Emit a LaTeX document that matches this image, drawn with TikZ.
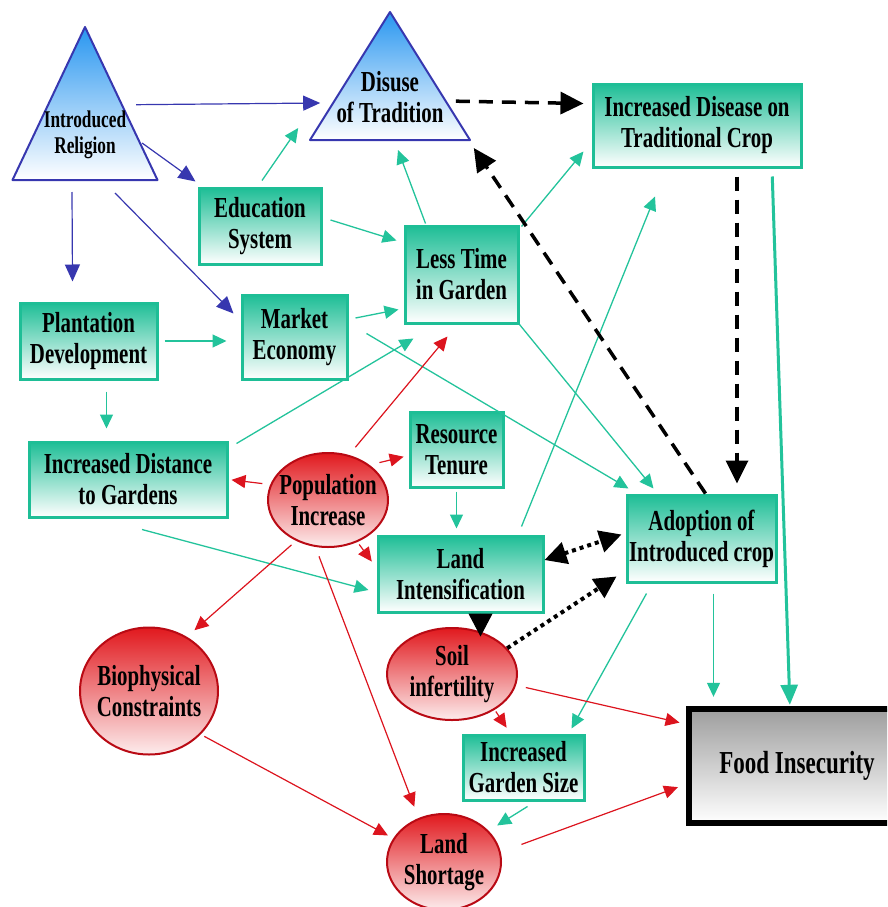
\documentclass[tikz,border=0pt]{standalone}
\usepackage{fontspec}
\setmainfont{Liberation Serif}[FakeStretch=0.72]
\usetikzlibrary{arrows.meta,shapes.geometric}

\definecolor{boxteal}{RGB}{30,190,150}
\definecolor{arrteal}{RGB}{35,195,155}
\definecolor{blobred}{RGB}{225,25,30}
\definecolor{blobedge}{RGB}{185,10,20}
\definecolor{arrred}{RGB}{220,20,30}
\definecolor{triblue}{RGB}{55,55,175}
\definecolor{trifill}{RGB}{40,150,240}

\begin{document}
\begin{tikzpicture}[x=1pt, y=-1pt,
  lbl/.style={font=\bfseries\fontsize{29}{31}\selectfont, align=center},
  box/.style={lbl, rectangle, draw=boxteal, line width=3pt, top color=boxteal, bottom color=white, inner sep=0pt},
  blob/.style={lbl, ellipse, draw=blobedge, line width=2pt, top color=blobred, bottom color=blobred!8, inner sep=-20pt},
  tri/.style={isosceles triangle, isosceles triangle stretches, shape border rotate=90, draw=triblue, line width=2pt, line join=round, top color=trifill, bottom color=white, inner sep=0pt},
  tritext/.style={font=\bfseries\fontsize{24}{26}\selectfont, align=center, inner sep=0pt},
  foodbox/.style={rectangle, top color=black!38, bottom color=white, font=\bfseries\fontsize{32}{34}\selectfont},
  barr/.style={draw=triblue, line width=1.2pt, -{Triangle[length=17pt,width=15pt]}},
  tarr/.style={draw=arrteal, line width=1.3pt, -{Triangle[length=14pt,width=13pt]}},
  tthick/.style={draw=arrteal, line width=3pt, -{Triangle[length=20pt,width=17pt]}},
  rarr/.style={draw=arrred, line width=1.2pt, -{Triangle[length=14pt,width=13pt]}},
  kdash/.style={draw=black, line width=3.5pt, dash pattern=on 14pt off 9pt, -{Triangle[length=23pt,width=22pt]}},
  kdot/.style={draw=black, line width=4pt, dash pattern=on 4pt off 4pt}]

  \useasboundingbox (0,0) rectangle (887,907);
  \clip (0,0) rectangle (887,907);

  % triangles
  \node[tri, minimum width=145pt, minimum height=153pt, anchor=lower side] (relig) at (85,181) {};
  \node[tritext] (religtxt) at ([yshift=46pt]relig.lower side) {Introduced\\Religion};
  \node[tri, minimum width=160pt, minimum height=128pt, anchor=lower side] (disuse) at (390,141) {};
  \node[tritext, font=\bfseries\fontsize{29}{31}\selectfont] (disusetxt) at ([yshift=44pt]disuse.lower side) {Disuse\\of Tradition};

  % boxes
  \node[box, minimum width=208pt, minimum height=83pt] (incdis) at (697,125.5) {Increased Disease on\\Traditional Crop};
  \node[box, minimum width=122pt, minimum height=76pt] (edu) at (260,226) {Education\\System};
  \node[box, minimum width=113pt, minimum height=97pt] (less) at (461.5,274.5) {Less Time\\in Garden};
  \node[box, minimum width=137pt, minimum height=76pt] (plant) at (88.5,341) {Plantation\\Development};
  \node[box, minimum width=105pt, minimum height=84pt] (market) at (294.5,337) {Market\\Economy};
  \node[box, minimum width=198pt, minimum height=75pt] (dist) at (128,479.5) {Increased Distance\\to Gardens};
  \node[box, minimum width=93pt, minimum height=75pt] (tenure) at (456.5,449.5) {Resource\\Tenure};
  \node[box, minimum width=165pt, minimum height=76pt] (landint) at (460.5,574) {Land\\Intensification};
  \node[box, minimum width=149pt, minimum height=87pt] (adopt) at (701.5,538.5) {Adoption of\\Introduced crop};
  \node[box, minimum width=121pt, minimum height=65pt] (garden) at (523.5,767.5) {Increased\\Garden Size};

  % ellipses
  \node[blob, minimum width=120pt, minimum height=94pt] (pop) at (328,500) {Population\\Increase};
  \node[blob, minimum width=130pt, minimum height=92pt] (soil) at (452,674) {Soil\\infertility};
  \node[blob, minimum width=138pt, minimum height=127pt] (bio) at (149,691) {Biophysical\\Constraints};
  \node[blob, minimum width=114pt, minimum height=96pt] (shortage) at (444,862) {Land\\Shortage};

  % food box, open on the right (runs off the page)
  \node[foodbox, minimum width=215pt, minimum height=114pt] (food) at (797,766) {Food Insecurity};
  \draw[line width=6pt, line join=miter] ([xshift=30pt]food.north east) -- (food.north west) -- (food.south west) -- ([xshift=30pt]food.south east);

  % blue arrows
  \draw[barr] ([xshift=14pt,yshift=-2pt]relig.right side) -- ([xshift=12pt,yshift=38pt]disuse.left corner);
  \draw[barr] ([xshift=-17pt,yshift=38pt]relig.right corner) -- ([xshift=-2pt,yshift=5pt]edu.north west);
  \draw[barr] ([xshift=-13pt,yshift=-11pt]relig.lower side) -- ([xshift=-16pt,yshift=20pt]plant.north);
  \draw[barr] ([xshift=30pt,yshift=-12pt]relig.lower side) -- ([xshift=-7pt,yshift=-20pt]market.north west);

  % teal arrows
  \draw[tarr] ([xshift=2pt,yshift=6pt]edu.north) -- ([xshift=-10pt,yshift=13pt]disuse.left corner);
  \draw[tarr] ([xshift=8pt,yshift=6pt]edu.east) -- ([xshift=-7pt,yshift=-16pt]less.north west);
  \draw[tarr] ([xshift=-36pt,yshift=1pt]less.north) -- ([xshift=8pt,yshift=-9pt]disuse.lower side);
  \draw[tarr] ([xshift=2pt,yshift=-2pt]less.north east) -- ([xshift=-8pt,yshift=17pt]incdis.south west);
  \draw[tarr] ([xshift=-23pt,yshift=8pt]landint.north east) -- ([xshift=-42pt,yshift=-28pt]incdis.south);
  \draw[tarr, shorten <=6pt, shorten >=14pt] (plant.east) -- (plant.east -| market.west);
  \draw[tarr, shorten <=11pt, shorten >=12pt] ([xshift=18pt]plant.south) -- ([xshift=18pt]plant.south |- dist.north);
  \draw[tarr] ([xshift=7pt,yshift=19pt]market.east) -- ([xshift=-5pt,yshift=-35pt]less.west);
  \draw[tarr] ([xshift=18pt,yshift=-40pt]market.north east) -- ([xshift=3pt,yshift=5pt]adopt.north west);
  \draw[tarr] (less.south east) -- ([xshift=28pt,yshift=5pt]adopt.north west);
  \draw[tarr] ([xshift=8pt,yshift=-3pt]dist.north east) -- ([xshift=10pt,yshift=-14pt]less.south west);
  \draw[tarr] ([xshift=14pt,yshift=-11pt]dist.south) -- ([xshift=-8pt,yshift=-16pt]landint.west);
  \draw[tarr, shorten <=3pt, shorten >=6pt] (tenure.south) -- (tenure.south |- landint.north);
  \draw[tarr, shorten <=10pt, shorten >=12pt] ([xshift=12pt]adopt.south) -- ([xshift=12pt]adopt.south |- food.north);
  \draw[tthick, shorten <=8pt, shorten >=4pt] ([xshift=75pt]incdis.south) -- ([xshift=-7pt]food.north);
  \draw[tarr] ([xshift=21pt,yshift=-10pt]adopt.south west) -- ([xshift=-14pt,yshift=5pt]garden.north east);
  \draw[tarr, shorten >=10pt] ([xshift=4pt,yshift=-5pt]garden.south) -- (shortage.35);

  % red arrows
  \draw[rarr, shorten <=8pt, shorten >=3pt] (pop.165) -- (dist.east);
  \draw[rarr, shorten <=10pt, shorten >=5pt] (pop.40) -- ([yshift=-6pt]tenure.west);
  \draw[rarr, shorten <=10pt] (pop.65) -- ([xshift=-14pt,yshift=-12pt]less.south);
  \draw[rarr, shorten <=3pt, shorten >=8pt] (pop.-55) -- ([yshift=6pt]landint.west);
  \draw[rarr, shorten <=6pt, shorten >=10pt] (pop.-128) -- (bio.55);
  \draw[rarr, shorten <=10pt, shorten >=12pt] (pop.-105) -- (shortage.120);
  \draw[rarr, shorten <=4pt, shorten >=6pt] (bio.-40) -- (shortage.155);
  \draw[rarr, shorten <=2pt, shorten >=7pt] (soil.-40) -- ([xshift=-13pt]garden.north);
  \draw[rarr, shorten <=10pt, shorten >=10pt] (soil.-10) -- ([yshift=-16pt]food.north west);
  \draw[rarr, shorten <=22pt, shorten >=12pt] (shortage.10) -- ([yshift=-17pt]food.west);

  % black links
  \draw[kdash] ([xshift=25pt,yshift=-26pt]disuse.right side) -- ([xshift=-8pt,yshift=22pt]incdis.west);
  \draw[kdash] ([xshift=4pt]adopt.north) -- ([xshift=2pt,yshift=-7pt]disuse.right corner);
  \draw[kdash, shorten <=8pt, shorten >=10pt] ([xshift=40pt]incdis.south) -- ([xshift=40pt]incdis.south |- adopt.north);
  \draw[kdot, {Triangle[length=22pt,width=22pt]}-{Triangle[length=22pt,width=22pt]}] ([yshift=14pt]landint.east) -- ([xshift=-4pt,yshift=4pt]adopt.west);
  \draw[kdot, -{Triangle[length=22pt,width=22pt]}] (soil.25) -- ([xshift=-9pt,yshift=7pt]adopt.south west);
  \draw[line width=1pt, -{Triangle[length=23pt,width=24pt]}] ([xshift=20pt]landint.south) -- ([xshift=20pt,yshift=-23pt]landint.south);

\end{tikzpicture}
\end{document}
